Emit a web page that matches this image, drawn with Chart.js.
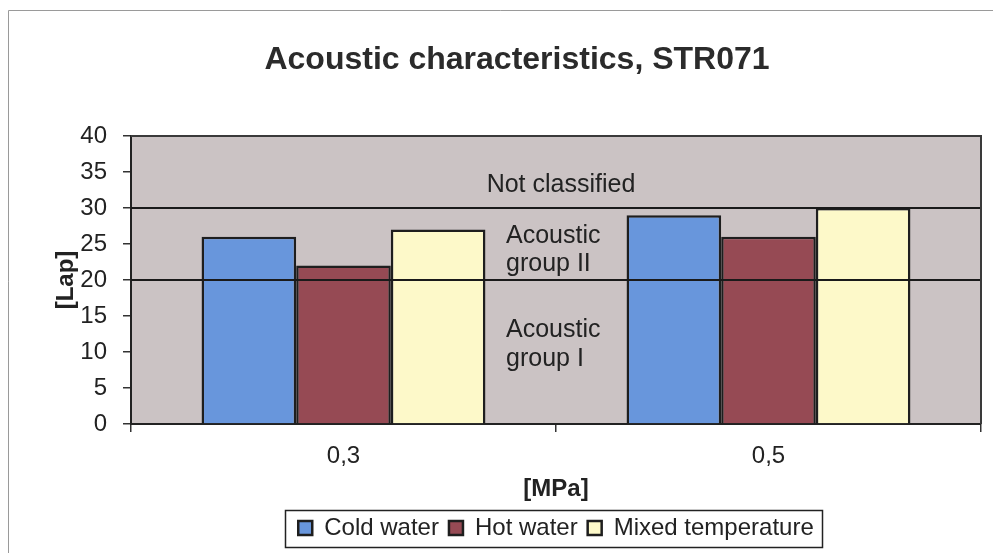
<!DOCTYPE html>
<html>
<head>
<meta charset="utf-8">
<title>Acoustic characteristics, STR071</title>
<style>
  html, body { margin: 0; padding: 0; background: #ffffff; }
  #wrap { width: 993px; height: 553px; }
</style>
<script src="https://cdn.jsdelivr.net/npm/chart.js@4.4.1/dist/chart.umd.min.js"></script>
</head>
<body>
<div id="wrap"><canvas id="chart" width="993" height="553"></canvas></div>
<script>
// Pressure categories and measured sound levels per water condition
const categories = ['0,3', '0,5'];
const coldWater = [26, 29];
const hotWater = [22, 26];
const mixedTemperature = [27, 30];

// Y axis tick values
const yTicks = [0, 5, 10, 15, 20, 25, 30, 35, 40];

// Acoustic group limits and zone captions
const groupLimits = [20, 30];
const zoneNotClassified = ['Not classified'];
const zoneGroupII = ['Acoustic', 'group II'];
const zoneGroupI = ['Acoustic', 'group I'];

const chartTitle = 'Acoustic characteristics, STR071';
const FONT = '"Liberation Sans", Arial, Helvetica, sans-serif';

Chart.defaults.font.family = FONT;
Chart.defaults.color = '#222222';

const decor = {
  id: 'decor',
  beforeDraw(chart) {
    const { ctx, chartArea: a } = chart;
    ctx.save();
    ctx.fillStyle = '#ffffff';
    ctx.fillRect(0, 0, chart.width, chart.height);
    // thin outer frame of the chart sheet
    ctx.strokeStyle = '#9a9a9a';
    ctx.lineWidth = 1;
    ctx.beginPath();
    ctx.moveTo(8.5, chart.height);
    ctx.lineTo(8.5, 10.5);
    ctx.lineTo(chart.width, 10.5);
    ctx.stroke();
    // plot area background
    ctx.fillStyle = '#cbc3c4';
    ctx.fillRect(a.left, a.top, a.width, a.height);
    ctx.restore();
  },
  afterDatasetsDraw(chart) {
    const { ctx, chartArea: a, scales } = chart;
    const y = scales.y, x = scales.x;
    ctx.save();
    // group limit lines
    ctx.strokeStyle = '#1a1a1a';
    ctx.lineWidth = 2;
    groupLimits.forEach(v => {
      const py = Math.round(y.getPixelForValue(v));
      ctx.beginPath();
      ctx.moveTo(a.left, py);
      ctx.lineTo(a.right, py);
      ctx.stroke();
    });
    // top and right frame of the plot area
    ctx.strokeStyle = '#3a3a3a';
    ctx.beginPath();
    ctx.moveTo(a.left, a.top);
    ctx.lineTo(a.right, a.top);
    ctx.lineTo(a.right, a.bottom);
    ctx.stroke();

    // zone captions between the two pressure groups
    const mid = x.getPixelForValue(0.5);
    ctx.fillStyle = '#222222';
    ctx.font = '25px ' + FONT;
    ctx.textBaseline = 'middle';
    ctx.textAlign = 'center';
    ctx.fillText(zoneNotClassified[0], mid + 5, y.getPixelForValue(33.2));
    ctx.textAlign = 'left';
    ctx.fillText(zoneGroupII[0], mid - 50, y.getPixelForValue(26.1));
    ctx.fillText(zoneGroupII[1], mid - 50, y.getPixelForValue(22.2));
    ctx.fillText(zoneGroupI[0], mid - 50, y.getPixelForValue(13.05));
    ctx.fillText(zoneGroupI[1], mid - 50, y.getPixelForValue(9.0));
    ctx.restore();
  },
  afterDraw(chart) {
    const { ctx } = chart;
    ctx.save();
    // chart title
    ctx.fillStyle = '#2b2b2b';
    ctx.font = 'bold 32px ' + FONT;
    ctx.textAlign = 'center';
    ctx.textBaseline = 'middle';
    ctx.fillText(chartTitle, 517, 60);
    // frame around the legend
    const hb = chart.legend.legendHitBoxes;
    if (hb && hb.length) {
      const left = Math.min(...hb.map(h => h.left)) - 13;
      const right = Math.max(...hb.map(h => h.left + h.width)) + 8;
      const cy = hb[0].top + hb[0].height / 2;
      ctx.strokeStyle = '#222222';
      ctx.lineWidth = 1.5;
      ctx.strokeRect(Math.round(left) + 0.5, Math.round(cy - 18.5) + 0.5, Math.round(right - left), 37);
    }
    ctx.restore();
  }
};

new Chart(document.getElementById('chart'), {
  type: 'bar',
  data: {
    labels: categories,
    datasets: [
      { label: 'Cold water', data: coldWater, backgroundColor: '#6896dc', borderColor: '#1e1e1e', borderWidth: 2.5 },
      { label: 'Hot water', data: hotWater, backgroundColor: '#964a54', borderColor: '#1e1e1e', borderWidth: 2.5 },
      { label: 'Mixed temperature', data: mixedTemperature, backgroundColor: '#fdf9c9', borderColor: '#1e1e1e', borderWidth: 2.5 }
    ]
  },
  options: {
    responsive: false,
    animation: false,
    devicePixelRatio: 1,
    layout: { padding: { top: 136, left: 8, right: 12, bottom: 3 } },
    datasets: { bar: { categoryPercentage: 0.668, barPercentage: 1.0 } },
    plugins: {
      title: { display: false },
      tooltip: { enabled: false },
      legend: {
        position: 'bottom',
        fullSize: false,
        labels: {
          boxWidth: 14,
          boxHeight: 14,
          padding: 10,
          font: { size: 24 },
          color: '#222222'
        }
      }
    },
    scales: {
      x: {
        offset: true,
        grid: { display: true, drawOnChartArea: false, drawTicks: true, tickLength: 8, color: '#333333', lineWidth: 1.5, offset: true },
        border: { display: true, color: '#222222', width: 2 },
        ticks: { font: { size: 24 }, color: '#222222', padding: 10 },
        title: { display: true, text: '[MPa]', font: { size: 24, weight: 'bold' }, color: '#222222', padding: { top: 0, bottom: 2 } },
        afterFit(scale) { scale.height = 82; }
      },
      y: {
        min: 0,
        max: 40,
        afterBuildTicks(scale) { scale.ticks = yTicks.map(v => ({ value: v })); },
        grid: { display: true, drawOnChartArea: false, drawTicks: true, tickLength: 8, color: '#333333', lineWidth: 1.5 },
        border: { display: true, color: '#222222', width: 2 },
        ticks: { font: { size: 24 }, color: '#222222', padding: 16 },
        title: { display: true, text: '[Lap]', font: { size: 24, weight: 'bold' }, color: '#222222', padding: { top: 44, bottom: 0 } },
        afterFit(scale) { scale.width = 123; }
      }
    }
  },
  plugins: [decor]
});
</script>
</body>
</html>
